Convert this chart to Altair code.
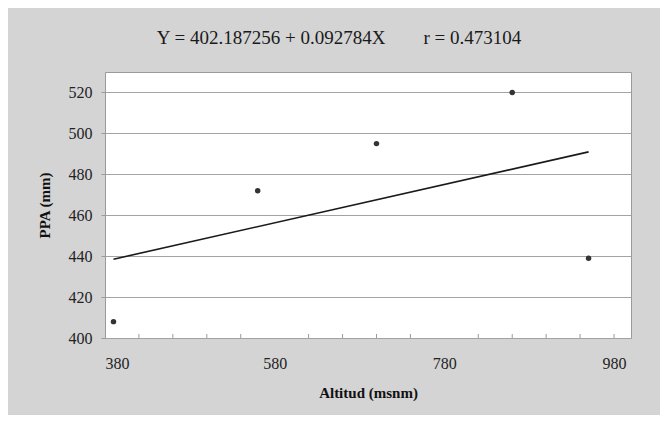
import altair as alt
import pandas as pd

altitude = [390, 560, 700, 860, 950]
ppa = [408, 472, 495, 520, 439]
minor_ticks = [420, 460, 500, 540, 620, 660, 700, 740, 820, 860, 900, 940, 980]
x_labels = [380, 580, 780, 980]
y_labels = [400, 420, 440, 460, 480, 500, 520]

df = pd.DataFrame({"alt": altitude, "ppa": ppa})
ticks_df = pd.DataFrame({"t": minor_ticks})

FONT = "Liberation Serif"
W, H = 526, 266
NB = "\u00a0"

xscale = alt.Scale(domain=[380, 1000], nice=False, zero=False)
yscale = alt.Scale(domain=[400, 530], nice=False, zero=False)

xaxis = alt.Axis(values=x_labels, title="Altitud (msnm)", grid=False, tickSize=0,
                 labelPadding=17, titlePadding=14, domain=False)
yaxis = alt.Axis(values=y_labels, title="PPA (mm)", grid=True, tickSize=4,
                 tickColor="#9a9a9a", labelPadding=9, titlePadding=16, domain=False)

points = alt.Chart(df).mark_point(filled=True, color="#333333", size=30, opacity=1).encode(
    x=alt.X("alt:Q", scale=xscale, axis=xaxis),
    y=alt.Y("ppa:Q", scale=yscale, axis=yaxis),
)

line = alt.Chart(df).transform_regression("alt", "ppa").mark_line(
    color="#1a1a1a", strokeWidth=1.6
).encode(
    x=alt.X("alt:Q", scale=xscale),
    y=alt.Y("ppa:Q", scale=yscale),
)

minor = alt.Chart(ticks_df).mark_rule(color="#9a9a9a", strokeWidth=1).encode(
    x=alt.X("t:Q", scale=xscale),
    y=alt.value(H),
    y2=alt.value(H - 4),
)

title_text = "Y = 402.187256 + 0.092784X" + NB * 8 + "r = 0.473104"

chart = alt.layer(minor, line, points).properties(
    width=W,
    height=H,
    title=alt.TitleParams(
        title_text,
        font=FONT, fontSize=19, fontWeight="normal", color="#1a1a1a",
        anchor="middle", dx=-29, offset=24,
    ),
    background="#d4d4d4",
    padding={"left": 97, "top": 64, "right": 29, "bottom": 77},
    autosize=alt.AutoSizeParams(type="none"),
).configure_view(
    fill="white", stroke="#9a9a9a", strokeWidth=1
).configure_axis(
    labelFont=FONT, labelFontSize=16, labelColor="#222222",
    titleFont=FONT, titleFontSize=15, titleFontWeight="bold", titleColor="#111111",
    gridColor="#a3a3a3", gridWidth=1, gridOpacity=1,
)

chart.save("out.html", embed_options={"renderer": "svg", "actions": False})
